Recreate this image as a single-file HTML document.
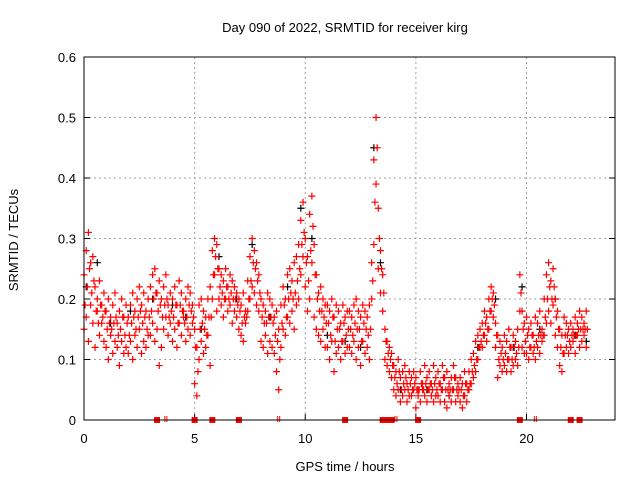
<!DOCTYPE html>
<html><head><meta charset="utf-8"><style>
body{margin:0;background:#fff;}
svg{display:block;font-family:"Liberation Sans",sans-serif;}
</style></head><body>
<svg id="chart" width="640" height="480">
<text x="345" y="32" text-anchor="middle" font-size="13">Day 090 of 2022, SRMTID for receiver kirg</text>
<text transform="translate(18,240) rotate(-90)" text-anchor="middle" font-size="13">SRMTID / TECUs</text>
<text x="345" y="471" text-anchor="middle" font-size="13">GPS time / hours</text>
<g id="grid"></g><g id="ticks"></g><g id="marks"></g>
<rect x="84" y="57" width="531" height="363" fill="none" stroke="#000" stroke-width="1"/>
</svg>
<script>
const xTicks=[0,5,10,15,20];
const yTicks=[0,0.1,0.2,0.3,0.4,0.5,0.6];
const yTickLabels=["0","0.1","0.2","0.3","0.4","0.5","0.6"];
const startHour=0, stepHour=0.1;
const redUpper=[.24,.28,.31,.26,.27,.22,.20,.23,.19,.21,
.18,.20,.17,.19,.21,.16,.18,.20,.17,.19,
.17,.19,.21,.18,.20,.22,.19,.21,.18,.20,
.22,.24,.25,.21,.23,.20,.22,.24,.19,.21,
.20,.22,.19,.23,.21,.18,.20,.22,.21,.19,
.15,.12,.19,.20,.18,.17,.20,.22,.28,.30,
.29,.25,.24,.23,.25,.22,.24,.23,.22,.21,
.20,.19,.21,.18,.23,.27,.30,.28,.26,.24,
.20,.19,.18,.21,.20,.19,.17,.18,.15,.19,
.22,.20,.24,.25,.23,.26,.27,.29,.33,.36,
.30,.27,.34,.37,.29,.24,.21,.22,.20,.19,
.19,.18,.20,.17,.19,.18,.16,.19,.17,.18,
.18,.17,.19,.20,.18,.17,.19,.18,.17,.19,
.26,.43,.50,.35,.28,.24,.15,.13,.12,.11,
.09,.08,.10,.07,.08,.09,.06,.08,.07,.08,
.07,.05,.08,.06,.09,.07,.08,.06,.09,.07,
.08,.06,.09,.07,.08,.06,.07,.09,.07,.06,
.07,.06,.08,.06,.08,.10,.11,.13,.14,.15,
.16,.18,.17,.20,.22,.21,.16,.14,.13,.12,
.14,.13,.15,.12,.14,.13,.15,.24,.18,.16,
.17,.15,.16,.14,.17,.16,.18,.15,.20,.24,
.26,.23,.25,.20,.18,.15,.14,.17,.16,.15,
.16,.15,.17,.16,.18,.17,.16,.18];
const redMid=[.19,.22,.25,.21,.23,.18,.16,.19,.17,.18,
.15,.16,.15,.16,.17,.14,.15,.17,.14,.16,
.14,.16,.17,.15,.17,.18,.16,.17,.15,.17,
.18,.20,.21,.18,.19,.17,.19,.20,.17,.18,
.17,.19,.16,.19,.18,.16,.17,.19,.18,.17,
.12,.08,.15,.16,.15,.14,.17,.17,.24,.27,
.25,.22,.21,.20,.22,.20,.21,.20,.20,.19,
.18,.16,.17,.17,.20,.23,.26,.25,.23,.21,
.17,.16,.16,.17,.17,.16,.14,.13,.10,.16,
.19,.17,.20,.21,.20,.21,.23,.25,.29,.31,
.26,.23,.28,.32,.24,.20,.18,.18,.17,.16,
.16,.14,.17,.13,.15,.15,.13,.16,.14,.15,
.15,.14,.16,.15,.15,.13,.16,.15,.14,.15,
.23,.36,.45,.30,.25,.21,.13,.11,.10,.09,
.07,.06,.08,.05,.06,.07,.05,.06,.05,.06,
.05,.05,.06,.05,.06,.05,.06,.05,.06,.05,
.06,.05,.07,.05,.05,.05,.05,.07,.05,.05,
.05,.04,.06,.05,.06,.08,.09,.10,.12,.13,
.14,.16,.15,.18,.20,.19,.14,.10,.11,.10,
.11,.10,.12,.10,.12,.11,.12,.21,.15,.13,
.14,.12,.14,.12,.13,.14,.14,.14,.17,.20,
.22,.20,.22,.17,.15,.12,.11,.14,.14,.13,
.14,.14,.14,.15,.15,.15,.15,.15];
const redLower=[.15,.17,.13,.19,.16,.12,.18,.14,.16,.13,
.12,.10,.14,.11,.13,.12,.09,.13,.11,.12,
.11,.13,.10,.14,.12,.15,.11,.13,.12,.14,
.14,.16,.13,.15,.09,.12,.15,.17,.14,.16,
.13,.15,.12,.16,.14,.17,.13,.15,.14,.16,
.06,.04,.10,.13,.11,.12,.14,.09,.20,.24,
.18,.20,.19,.17,.20,.18,.19,.16,.18,.17,
.15,.14,.13,.16,.18,.20,.22,.21,.19,.18,
.13,.12,.14,.11,.13,.12,.11,.08,.05,.12,
.15,.14,.17,.16,.18,.15,.19,.20,.24,.27,
.22,.18,.20,.26,.17,.15,.14,.13,.15,.12,
.12,.10,.13,.08,.11,.12,.10,.13,.11,.12,
.12,.11,.13,.10,.12,.09,.13,.11,.12,.10,
.20,.29,.39,.25,.21,.18,.10,.09,.08,.07,
.05,.04,.05,.03,.04,.05,.03,.04,.04,.05,
.02,.04,.03,.05,.04,.03,.05,.04,.03,.04,
.04,.03,.05,.03,.02,.04,.03,.05,.03,.04,
.03,.02,.04,.03,.05,.06,.07,.08,.10,.12,
.12,.14,.13,.15,.18,.17,.12,.07,.09,.08,
.09,.08,.10,.08,.09,.10,.09,.18,.12,.11,
.11,.10,.12,.11,.10,.12,.11,.13,.14,.16,
.18,.16,.19,.14,.12,.09,.08,.11,.12,.11,
.12,.13,.11,.14,.12,.13,.14,.12];
const blackTimes=[0.1,0.6,1.2,2.1,3.1,4.0,4.6,5.3,6.1,6.9,7.6,8.4,9.2,9.8,10.3,11.0,11.8,12.5,13.1,13.4,14.3,15.5,16.5,17.8,18.6,19.4,19.8,20.6,21.3,22.2,22.7];
const blackValues=[0.22,0.26,0.16,0.18,0.20,0.19,0.17,0.15,0.27,0.20,0.29,0.17,0.22,0.35,0.30,0.14,0.13,0.12,0.45,0.26,0.05,0.05,0.04,0.12,0.20,0.12,0.22,0.15,0.20,0.14,0.13];
const zeroRedTimes=[3.3,5.0,5.8,7.0,11.8,13.5,13.7,13.9,15.1,19.7,22.0,22.4];
const zeroBlackTimes=[3.7,8.8,14.1,20.4];

const L=84,R=615,T=57,B=420,XMAX=24,YMAX=0.6;
const xs=h=>L+(h/XMAX)*(R-L);
const ys=v=>B-(v/YMAX)*(B-T);
const NS="http://www.w3.org/2000/svg";
const grid=document.getElementById('grid'),ticks=document.getElementById('ticks'),marks=document.getElementById('marks');
function mk(tag,attrs,parent){const e=document.createElementNS(NS,tag);for(const k in attrs)e.setAttribute(k,attrs[k]);parent.appendChild(e);return e;}
xTicks.forEach(t=>{
  const x=xs(t);
  if(t>0){const g=mk('line',{x1:x,x2:x,y1:T,y2:B,stroke:'#a0a0a0','stroke-dasharray':'2,3'},grid);
  
  }
  const tk=mk('line',{x1:x,x2:x,y1:B,y2:B-6,stroke:'#000'},ticks);
  
  
  const lb=mk('text',{x:x,y:B+23,'text-anchor':'middle','font-size':'13'},ticks);lb.textContent=t;
  
  
});
yTicks.forEach((v,i)=>{
  const y=ys(v);
  if(v>0&&v<YMAX){const g=mk('line',{x1:L,x2:R,y1:y,y2:y,stroke:'#a0a0a0','stroke-dasharray':'2,3'},grid);
  
  }
  const tk=mk('path',{d:`M${L},${y}h6M${R},${y}h-6`,stroke:'#000'},ticks);
  
  
  const lb=mk('text',{x:L-8,y:y+5,'text-anchor':'end','font-size':'13'},ticks);lb.textContent=yTickLabels[i];
  
  
});
function plus(h,v,color,name){
  const x=xs(h),y=ys(v);
  const p=mk('path',{d:`M${x-3.5},${y}h7M${x},${y-3.5}v7`,stroke:color,'stroke-width':'1.2'},marks);
  
  
}
blackTimes.forEach((t,i)=>plus(t,blackValues[i],'#000','black-point'));
redUpper.forEach((v,i)=>plus(startHour+i*stepHour,v,'#ff0000','red-point'));
redMid.forEach((v,i)=>plus(startHour+i*stepHour+0.05,v,'#ff0000','red-point'));
redLower.forEach((v,i)=>plus(startHour+i*stepHour,v,'#ff0000','red-point'));
zeroBlackTimes.forEach(t=>{const x=xs(t);const p=mk('path',{d:`M${x-1},${B-4}v6M${x+1},${B-4}v6`,stroke:'#ff0000'},marks);
  
  });
zeroRedTimes.forEach(t=>{const x=xs(t);const p=mk('rect',{x:x-3,y:B-3,width:6,height:6,fill:'#ff0000'},marks);
  
  });
</script>
</body></html>
